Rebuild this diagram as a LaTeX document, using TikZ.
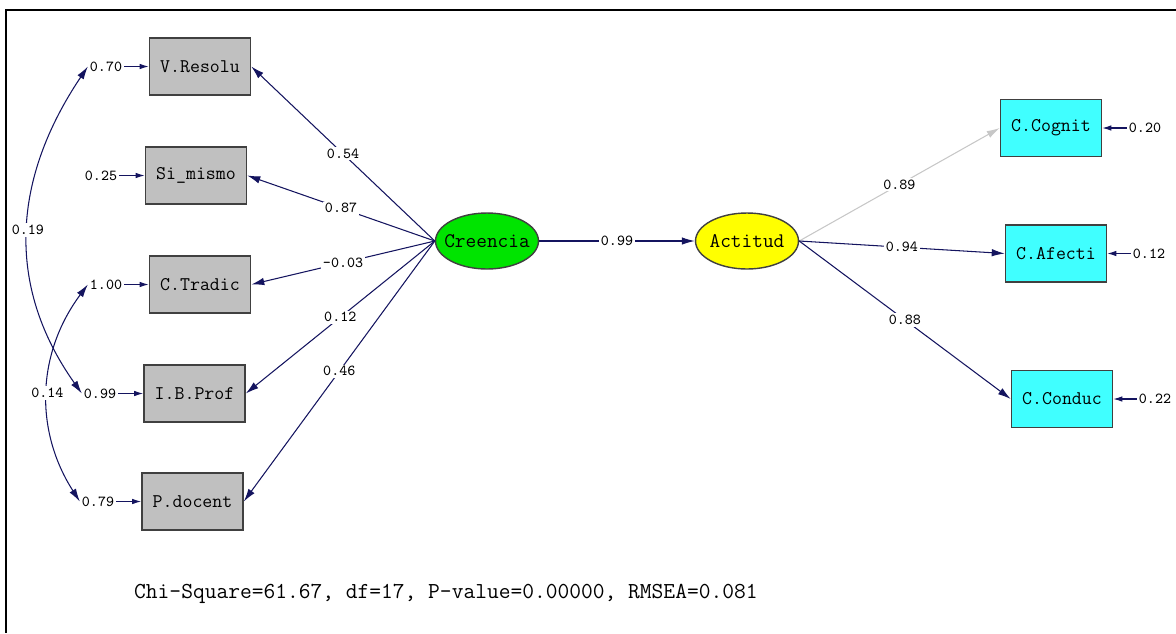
\documentclass[tikz,border=0pt]{standalone}
\usepackage{fontspec}
\usetikzlibrary{arrows.meta,shapes.geometric}
\definecolor{lnavy}{RGB}{20,20,95}
\definecolor{boxgray}{RGB}{192,192,192}
\definecolor{boxcyan}{RGB}{64,255,255}
\definecolor{latgreen}{RGB}{0,228,0}
\definecolor{latyellow}{RGB}{255,255,0}
\begin{document}
\begin{tikzpicture}[x=0.02cm,y=-0.02cm,
  obs/.style={draw=black!75,line width=0.9pt,minimum width=2.02cm,minimum height=1.14cm,inner sep=0pt,font=\ttfamily\fontsize{11}{12}\selectfont},
  lat/.style={ellipse,draw=black!75,line width=0.8pt,minimum width=2.06cm,minimum height=1.12cm,inner xsep=-4.3pt,inner ysep=0pt,font=\ttfamily\fontsize{11.8}{12}\selectfont},
  val/.style={fill=white,text=black,inner sep=1pt,font=\ttfamily\fontsize{8.7}{9}\selectfont},
  err/.style={inner sep=1pt,font=\ttfamily\fontsize{8.7}{9}\selectfont},
  ptip/.style={lnavy,line width=0.6pt,-{Latex[length=2.6mm,width=1.5mm]}},
  etip/.style={lnavy,line width=0.6pt,-{Latex[length=1.8mm,width=1.1mm]}},
  ctip/.style={lnavy,line width=0.6pt,{Latex[length=2.6mm,width=1.5mm]}-{Latex[length=2.6mm,width=1.5mm]}}]
\useasboundingbox (0,0) rectangle (1176,633);
\draw[line width=1.2pt] (1176,10) -- (6,10) -- (6,633);
% latent variables
\node[lat,fill=latgreen] (cr) at (487,241) {Creencia};
\node[lat,fill=latyellow] (ac) at (747,241) {Actitud};
% indicators of Creencia
\foreach \n/\t/\x/\y/\e/\ex in {v1/V.Resolu/200/66.5/0.70/106,v2/Si\_mismo/196/175.5/0.25/101,v3/C.Tradic/200/284.5/1.00/106,v4/I.B.Prof/194.5/393.5/0.99/100,v5/P.docent/192.5/501.5/0.79/98}{
  \node[obs,fill=boxgray] (\n) at (\x,\y) {\t};
  \node[err] (e\n) at (\ex,\y) {\e};
  \draw[etip] (e\n) -- (\n);
}
% indicators of Actitud
\foreach \n/\t/\x/\y/\e/\ex in {c1/C.Cognit/1051/128/0.20/1145,c2/C.Afecti/1056/253.5/0.12/1149,c3/C.Conduc/1062/399/0.22/1155}{
  \node[obs,fill=boxcyan] (\n) at (\x,\y) {\t};
  \node[err] (e\n) at (\ex,\y) {\e};
  \draw[etip] (e\n) -- (\n);
}
\foreach \n/\v in {v1/0.54,v2/0.87,v3/-0.03,v4/0.12,v5/0.46}
  \draw[ptip] (cr.west) -- node[val]{\v} (\n.east);
\draw[ptip] (cr.east) -- node[val]{0.99} (ac.west);
\draw[ptip,black!22] (ac.east) -- node[val]{0.89} (c1.west);
\draw[ptip] (ac.east) -- node[val]{0.94} (c2.west);
\draw[ptip] (ac.east) -- node[val]{0.88} (c3.west);
% error covariances
\draw[ctip] (ev1.west) .. controls +(-74,110) and +(-78,-110) .. node[val]{0.19} (ev4.west);
\draw[ctip] (ev3.west) .. controls +(-52,70) and +(-45,-70) .. node[val]{0.14} (ev5.west);
\node[anchor=west,font=\ttfamily\fontsize{13}{14}\selectfont] (fit) at (128,594) {Chi-Square=61.67, df=17, P-value=0.00000, RMSEA=0.081};
\end{tikzpicture}
\end{document}
